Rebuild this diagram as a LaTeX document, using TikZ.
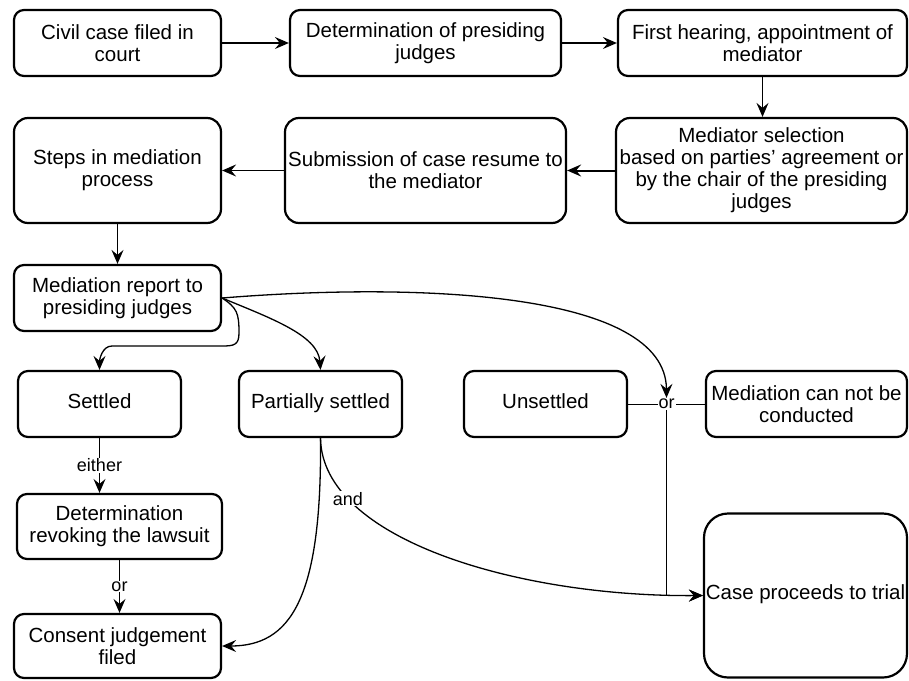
\documentclass[tikz,border=0pt]{standalone}
\usepackage{fontspec}
\setmainfont{Liberation Sans}
\usetikzlibrary{arrows.meta}
\tikzstyle{process} = [rectangle, rounded corners=10pt, minimum width=207pt, minimum height=66pt, text centered, align=center, inner sep=0pt, draw=black, line width=2.2pt]
\tikzstyle{arrow} = [line width=1.3pt,-{Stealth[length=14pt,width=12pt,inset=5pt]}]
\tikzstyle{lbl} = [fill=white, inner sep=1pt, font=\fontsize{18}{20}\selectfont]

\begin{document}
\begin{tikzpicture}[x=1pt, y=-1pt, font=\fontsize{20.5}{22}\selectfont]
\useasboundingbox (0,0) rectangle (909,680);

% Nodes for Flowchart
\node (civil) [process] at (117.5,43) {Civil case filed in\\court};
\node (determ) [process, minimum width=271pt] at (425.5,43) {Determination of presiding\\judges};
\node (first) [process, minimum width=289pt] at (762.5,43) {First hearing, appointment of\\mediator};
\node (steps) [process, minimum height=105pt, rounded corners=14pt] at (117.5,170.5) {Steps in mediation\\process};
\node (submission) [process, minimum width=281pt, minimum height=105pt, rounded corners=14pt] at (425.5,170.5) {Submission of case resume to\\the mediator};
\node (mediator) [process, minimum width=291pt, minimum height=105pt, rounded corners=14pt] at (761.5,170.5) {Mediator selection\\based on parties' agreement or\\by the chair of the presiding\\judges};
\node (report) [process] at (117.5,298) {Mediation report to\\presiding judges};
\node (settled) [process, minimum width=163pt] at (99.5,404) {\strut Settled};
\node (partial) [process, minimum width=163pt] at (320.5,404) {\strut Partially settled};
\node (unsettled) [process, minimum width=163pt] at (545.5,404) {\strut Unsettled};
\node (cannot) [process, minimum width=201pt] at (806.5,404) {Mediation can not be\\conducted};
\node (revoking) [process, minimum width=205pt, minimum height=65pt] at (119.5,526.5) {Determination\\revoking the lawsuit};
\node (consent) [process, minimum height=64pt] at (117.5,646) {Consent judgement\\filed};
\node (trial) [process, minimum width=203pt, minimum height=164pt, rounded corners=24pt] at (805.5,595.5) {\strut Case proceeds to trial};

% Arrows for Flowchart
\draw [arrow] (civil) -- (determ);
\draw [arrow] (determ) -- (first);
\draw [arrow] (first.south) -- (first.south |- mediator.north);
\draw [arrow, line width=2pt] (mediator) -- (submission);
\draw [arrow] (submission) -- (steps);
\draw [arrow] (steps) -- (report);
\draw [arrow] (report.east) .. controls +(15,10) and +(0,-20) .. (239,333) .. controls +(0,12) and +(12,0) .. (222,346) -- (112,346) .. controls +(-10,0) and +(0,-10) .. (settled.north);
\draw [arrow] (report.east) .. controls (270,318) and (318,335) .. (partial.north);
\draw (unsettled) -- node[lbl] (orlbl) {or} (cannot);
\draw [arrow] (report.east) .. controls (420,282) and (666,292) .. (orlbl.north);
\draw [arrow] (orlbl.south) |- (trial.west);
\draw [arrow] (settled.south) -- node[lbl] {either} (settled.south |- revoking.north);
\draw [arrow] (revoking.south) -- node[lbl] {or} (revoking.south |- consent.north);
\draw [arrow] (partial.south) .. controls (322,600) and (290,646) .. (consent.east);
\draw [arrow] (partial.south) .. controls (322,540) and (520,597) .. node[lbl, pos=0.22] {and} (trial.west);

\end{tikzpicture}
\end{document}
